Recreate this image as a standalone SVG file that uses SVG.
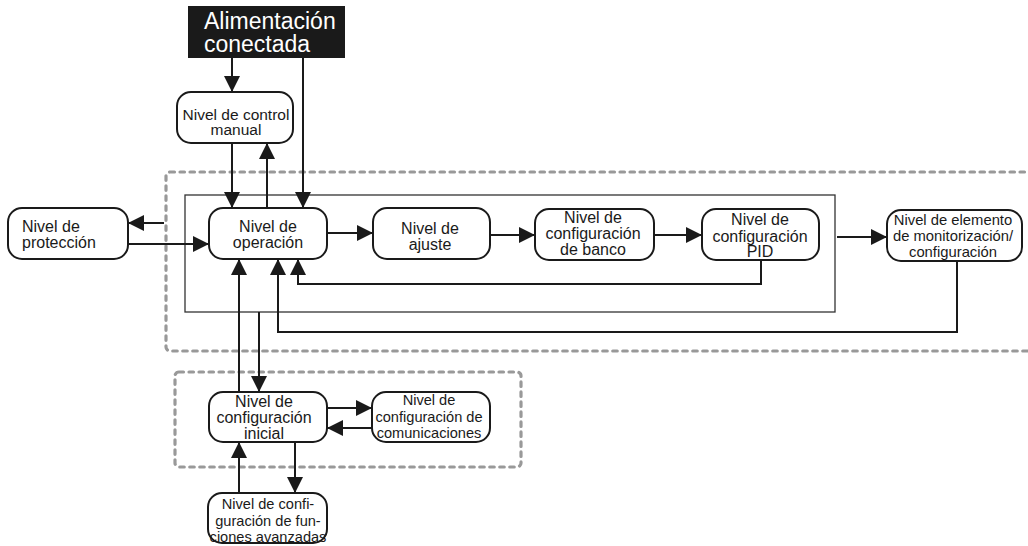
<svg xmlns="http://www.w3.org/2000/svg" width="1028" height="546" viewBox="0 0 1028 546">
<style>
.node{fill:#fff;stroke:#1a1a1a;stroke-width:2}
.t{font-family:"Liberation Sans",Arial,sans-serif;font-size:16px;fill:#1a1a1a;text-anchor:middle}
.s{font-size:14.6px}
.c{fill:none;stroke:#1a1a1a;stroke-width:2;marker-end:url(#ah)}
.dash{fill:none;stroke:#999;stroke-width:3.2;stroke-dasharray:4.5 5.5;stroke-linecap:round}
.w{font-family:"Liberation Sans",Arial,sans-serif;font-size:23px;fill:#fff}
</style>
<defs>
<marker id="ah" viewBox="0 0 16 16" markerWidth="16" markerHeight="16" refX="16" refY="8" orient="auto" markerUnits="userSpaceOnUse">
<path d="M0,0 L16,8 L0,16 z" fill="#1a1a1a"/>
</marker>
</defs>
<rect width="1028" height="546" fill="#fff"/>
<g id="frames">
<rect class="dash" x="166" y="172" width="880" height="179" rx="4"/>
<rect class="dash" x="175" y="372" width="346" height="95" rx="4"/>
<rect x="185" y="195" width="650" height="117" fill="none" stroke="#333" stroke-width="1.3"/>
</g>
<g id="connectors">
<path class="c" d="M232,58 V92"/>
<path class="c" d="M303,58 V208"/>
<path class="c" d="M232,143 V208"/>
<path class="c" d="M267,208 V143"/>
<path class="c" d="M164,223 H128"/>
<path class="c" d="M128,244 H209"/>
<path class="c" d="M327,233 H373"/>
<path class="c" d="M490,235 H535"/>
<path class="c" d="M654,235 H702"/>
<path class="c" d="M837,237 H887"/>
<path class="c" d="M761,260 V284 H298 V259"/>
<path class="c" d="M957,261 V332 H278 V259"/>
<path class="c" d="M239,392 V259"/>
<path class="c" d="M259,312 V392"/>
<path class="c" d="M327,408 H372"/>
<path class="c" d="M372,428 H327"/>
<path class="c" d="M239,493 V442"/>
<path class="c" d="M295,442 V493"/>
</g>
<g id="alimentacion">
<rect x="188" y="6" width="157" height="52" fill="#1a1a1a"/>
<text class="w" x="204" y="28.5">Alimentación</text>
<text class="w" x="204" y="52">conectada</text>
</g>
<g id="control-manual">
<rect class="node" x="177" y="92" width="116" height="51" rx="14"/>
<text class="t" x="236" y="120" style="font-size:15.5px">Nivel de control</text>
<text class="t" x="236" y="135" style="font-size:15.5px">manual</text>
</g>
<g id="proteccion">
<rect class="node" x="8" y="208" width="120" height="51" rx="14"/>
<text class="t" x="22" y="232" style="text-anchor:start">Nivel de</text>
<text class="t" x="22" y="248" style="text-anchor:start">protección</text>
</g>
<g id="operacion">
<rect class="node" x="209" y="208" width="118" height="51" rx="14"/>
<text class="t" x="268" y="232">Nivel de</text>
<text class="t" x="268" y="248">operación</text>
</g>
<g id="ajuste">
<rect class="node" x="373" y="208" width="117" height="51" rx="14"/>
<text class="t" x="430" y="234">Nivel de</text>
<text class="t" x="430" y="250">ajuste</text>
</g>
<g id="banco">
<rect class="node" x="535" y="209" width="119" height="51" rx="14"/>
<text class="t" x="593" y="223">Nivel de</text>
<text class="t" x="593" y="239">configuración</text>
<text class="t" x="593" y="255">de banco</text>
</g>
<g id="pid">
<rect class="node" x="702" y="209" width="117" height="51" rx="14"/>
<text class="t" x="760" y="225">Nivel de</text>
<text class="t" x="760" y="242">configuración</text>
<text class="t" x="760" y="257">PID</text>
</g>
<g id="monitorizacion">
<rect class="node" x="887" y="210" width="135" height="51" rx="14"/>
<text class="t" x="953" y="225" style="font-size:14.8px">Nivel de elemento</text>
<text class="t" x="953" y="241" style="font-size:14.8px">de monitorización/</text>
<text class="t" x="953" y="257" style="font-size:14.8px">configuración</text>
</g>
<g id="config-inicial">
<rect class="node" x="209" y="392" width="118" height="50" rx="14"/>
<text class="t" x="264" y="407">Nivel de</text>
<text class="t" x="264" y="423">configuración</text>
<text class="t" x="264" y="439">inicial</text>
</g>
<g id="comunicaciones">
<rect class="node" x="372" y="392" width="118" height="50" rx="14"/>
<text class="t s" x="429" y="405">Nivel de</text>
<text class="t s" x="429" y="422">configuración de</text>
<text class="t s" x="429" y="438">comunicaciones</text>
</g>
<g id="avanzadas">
<rect class="node" x="208" y="493" width="119" height="50" rx="14"/>
<text class="t s" x="268" y="509">Nivel de confi-</text>
<text class="t s" x="268" y="526">guración de fun-</text>
<text class="t s" x="268" y="542">ciones avanzadas</text>
</g>
</svg>
